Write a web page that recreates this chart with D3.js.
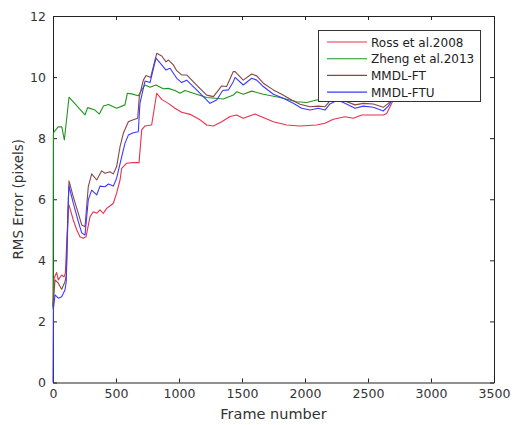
<!DOCTYPE html>
<html><head><meta charset="utf-8">
<script src="https://cdn.jsdelivr.net/npm/d3@7"></script>
<style>body{margin:0;background:#fff;} text{font-family:"DejaVu Sans",sans-serif;}</style>
</head><body>
<svg id="c" width="513" height="425"></svg>
<script>
const seriesNames = ["Ross et al.2008","Zheng et al.2013","MMDL-FT","MMDL-FTU"];
const seriesColors = ["#e8314d","#1e961e","#8a4545","#3a3aff"];
const xTicks = [0,500,1000,1500,2000,2500,3000,3500];
const yTicks = [0,2,4,6,8,10,12];

const rossX = [0,8,29,42,69,87,98,122,127,161,188,214,241,262,294,320,347,373,400,426,452,479,505,532,545,585,637,683,704,730,783,823,863,915,968,1021,1087,1167,1220,1273,1339,1405,1458,1510,1603,1669,1749,1855,1960,2093,2159,2225,2317,2384,2450,2516,2621,2648,2675,2701,2715];
const rossY = [2.5,3.41,3.6,3.36,3.52,3.46,3.58,5.76,5.81,5.32,5.0,4.77,4.72,4.77,5.43,5.59,5.54,5.65,5.54,5.7,5.78,5.87,6.2,6.63,7.01,7.18,7.2,7.2,8.27,8.4,8.43,9.47,9.27,9.14,8.98,8.85,8.78,8.6,8.43,8.4,8.54,8.71,8.76,8.65,8.79,8.68,8.54,8.43,8.4,8.43,8.49,8.62,8.7,8.65,8.76,8.76,8.76,8.81,9.03,9.25,9.35];

const zhengX = [0,3,40,70,90,127,254,275,333,368,400,440,505,571,590,624,677,704,730,770,817,875,915,968,1008,1048,1114,1220,1352,1431,1458,1510,1577,1669,1802,1934,2013,2093,2200,2400,2600,2715];
const zhengY = [2.4,8.17,8.37,8.37,7.94,9.34,8.76,9.0,8.92,8.79,9.05,9.1,8.98,9.09,9.47,9.45,9.39,9.58,9.74,9.67,9.74,9.62,9.63,9.56,9.47,9.56,9.47,9.33,9.28,9.41,9.52,9.44,9.54,9.44,9.33,9.19,9.17,9.25,9.3,9.3,9.3,9.35];

const ftX = [0,16,42,69,95,105,122,127,161,201,228,254,280,307,347,386,413,452,479,505,532,558,598,637,672,685,717,738,775,823,863,897,915,955,982,1021,1061,1140,1220,1273,1339,1378,1431,1445,1510,1577,1617,1669,1749,1815,1894,1960,2040,2106,2159,2198,2260,2317,2397,2463,2542,2621,2661,2700,2715];
const ftY = [2.48,3.36,3.25,3.05,3.3,3.5,5.98,6.6,6.08,5.54,5.16,5.1,6.41,6.83,6.63,6.93,6.85,6.9,6.83,7.07,7.72,8.16,8.54,8.6,8.65,9.36,9.9,10.05,9.99,10.78,10.69,10.5,10.56,10.4,10.21,10.07,10.07,9.74,9.41,9.36,9.71,9.69,10.18,10.18,9.9,10.1,10.04,9.8,9.58,9.44,9.25,9.11,9.03,9.05,9.03,9.22,9.35,9.22,9.09,9.14,9.12,9.01,9.14,9.3,9.4];

const ftuX = [0,3,16,42,69,95,105,122,127,161,201,228,254,280,307,347,373,413,440,479,505,545,571,598,637,677,690,730,770,817,863,897,929,982,1021,1061,1140,1246,1299,1347,1392,1431,1445,1510,1577,1617,1669,1749,1828,1907,1973,2040,2106,2159,2198,2260,2317,2397,2463,2542,2621,2661,2688,2715];
const ftuY = [0,2.4,2.87,2.76,2.81,3.03,3.3,6.0,6.43,5.87,5.27,4.9,4.83,5.98,6.3,6.14,6.43,6.41,6.5,6.43,6.69,7.39,7.83,8.1,8.18,8.21,9.14,9.87,9.82,10.62,10.4,10.23,10.29,9.96,9.82,9.9,9.58,9.14,9.25,9.56,9.58,9.85,9.99,9.74,9.96,9.9,9.69,9.44,9.31,9.14,8.98,8.92,8.98,8.92,9.12,9.25,9.14,8.98,9.05,9.01,8.89,9.05,9.22,9.35];

const allX = [rossX, zhengX, ftX, ftuX];
const allY = [rossY, zhengY, ftY, ftuY];

const svg = d3.select("#c");
const L = 53, R = 494, T = 16, B = 382.5;
const x = d3.scaleLinear().domain([0,3500]).range([L,R]);
const y = d3.scaleLinear().domain([0,12]).range([B,T]);

const textCol = "#333";
const fmt = d3.format("d");
const gx = svg.append("g").attr("transform",`translate(0,${B})`)
  .call(d3.axisBottom(x).tickValues(xTicks).tickFormat(fmt).tickSizeInner(-4).tickSizeOuter(0).tickPadding(7));
const gxt = svg.append("g").attr("transform",`translate(0,${T})`)
  .call(d3.axisTop(x).tickValues(xTicks).tickSizeInner(-4).tickSizeOuter(0).tickFormat(""));
const gy = svg.append("g").attr("transform",`translate(${L},0)`)
  .call(d3.axisLeft(y).tickValues(yTicks).tickFormat(fmt).tickSizeInner(-4).tickSizeOuter(0).tickPadding(7));
const gyr = svg.append("g").attr("transform",`translate(${R},0)`)
  .call(d3.axisRight(y).tickValues(yTicks).tickSizeInner(-4).tickSizeOuter(0).tickFormat(""));
[gx,gxt,gy,gyr].forEach(g=>{
  g.select(".domain").attr("stroke","#222");
  g.selectAll(".tick line").attr("stroke","#222");
  g.selectAll("text").attr("fill",textCol).style("font-size","12.5px").style("font-family","DejaVu Sans");
});

const line = d3.line().x(d=>x(d[0])).y(d=>y(d[1]));
const plot = svg.append("g");
[0,1,2,3].forEach(i=>{
  const pts = allX[i].map((v,k)=>[v, allY[i][k]]);
  plot.append("path").datum(pts).attr("d",line).attr("fill","none")
    .attr("stroke",seriesColors[i]).attr("stroke-width",1.1).attr("stroke-linejoin","round");
});

svg.append("text").attr("x",(L+R)/2).attr("y",419).attr("text-anchor","middle")
  .attr("fill",textCol).style("font-size","14.5px").text("Frame number");
svg.append("text").attr("transform",`translate(23,${(T+B)/2}) rotate(-90)`).attr("text-anchor","middle")
  .attr("fill",textCol).style("font-size","13.5px").text("RMS Error (pixels)");

const lg = svg.append("g");
lg.append("rect").attr("x",318.5).attr("y",30.5).attr("width",162).attr("height",71)
  .attr("fill","#fff").attr("stroke","#333").attr("stroke-width",1);
seriesNames.forEach((n,i)=>{
  const yy = 42 + i*16.7;
  lg.append("line").attr("x1",327).attr("x2",367).attr("y1",yy).attr("y2",yy)
    .attr("stroke",seriesColors[i]).attr("stroke-width",1.1);
  lg.append("text").attr("x",371).attr("y",yy+4.5).attr("fill","#222")
    .style("font-size","12px").text(n);
});
</script>
</body></html>
